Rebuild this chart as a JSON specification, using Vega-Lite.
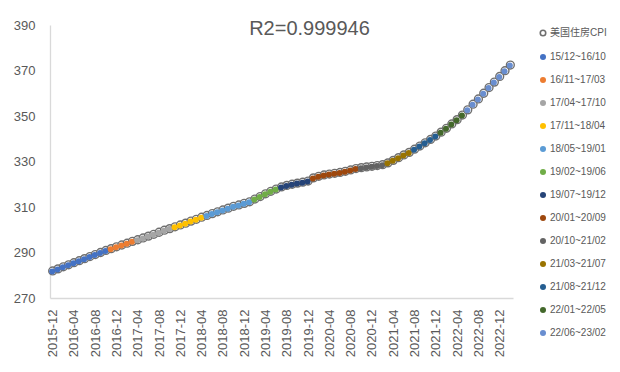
{
  "$schema": "https://vega.github.io/schema/vega-lite/v6.json",
  "autosize": {"type": "none"},
  "width": 463,
  "height": 273,
  "padding": {"left": 50, "top": 25, "right": 107, "bottom": 74},
  "background": "white",
  "title": {"text": "R2=0.999946", "fontSize": 20, "fontWeight": "normal", "color": "#595959", "font": "Liberation Sans", "anchor": "middle", "frame": "group", "dx": 28, "baseline": "alphabetic", "offset": -36},
  "config": {"view": {"stroke": null}},
  "resolve": {"legend": {"color": "independent", "stroke": "independent"}},
  "data": {"values": [
    {"m": "2015-12", "v": 281.9, "s": "15/12~16/10"},
    {"m": "2016-01", "v": 282.8, "s": "15/12~16/10"},
    {"m": "2016-02", "v": 283.7, "s": "15/12~16/10"},
    {"m": "2016-03", "v": 284.6, "s": "15/12~16/10"},
    {"m": "2016-04", "v": 285.5, "s": "15/12~16/10"},
    {"m": "2016-05", "v": 286.4, "s": "15/12~16/10"},
    {"m": "2016-06", "v": 287.3, "s": "15/12~16/10"},
    {"m": "2016-07", "v": 288.2, "s": "15/12~16/10"},
    {"m": "2016-08", "v": 289.1, "s": "15/12~16/10"},
    {"m": "2016-09", "v": 290.0, "s": "15/12~16/10"},
    {"m": "2016-10", "v": 290.9, "s": "15/12~16/10"},
    {"m": "2016-11", "v": 291.7, "s": "16/11~17/03"},
    {"m": "2016-12", "v": 292.5, "s": "16/11~17/03"},
    {"m": "2017-01", "v": 293.3, "s": "16/11~17/03"},
    {"m": "2017-02", "v": 294.1, "s": "16/11~17/03"},
    {"m": "2017-03", "v": 294.9, "s": "16/11~17/03"},
    {"m": "2017-04", "v": 295.6, "s": "17/04~17/10"},
    {"m": "2017-05", "v": 296.4, "s": "17/04~17/10"},
    {"m": "2017-06", "v": 297.2, "s": "17/04~17/10"},
    {"m": "2017-07", "v": 298.0, "s": "17/04~17/10"},
    {"m": "2017-08", "v": 298.9, "s": "17/04~17/10"},
    {"m": "2017-09", "v": 299.8, "s": "17/04~17/10"},
    {"m": "2017-10", "v": 300.5, "s": "17/04~17/10"},
    {"m": "2017-11", "v": 301.3, "s": "17/11~18/04"},
    {"m": "2017-12", "v": 302.1, "s": "17/11~18/04"},
    {"m": "2018-01", "v": 302.9, "s": "17/11~18/04"},
    {"m": "2018-02", "v": 303.8, "s": "17/11~18/04"},
    {"m": "2018-03", "v": 304.6, "s": "17/11~18/04"},
    {"m": "2018-04", "v": 305.5, "s": "17/11~18/04"},
    {"m": "2018-05", "v": 306.3, "s": "18/05~19/01"},
    {"m": "2018-06", "v": 307.1, "s": "18/05~19/01"},
    {"m": "2018-07", "v": 307.9, "s": "18/05~19/01"},
    {"m": "2018-08", "v": 308.7, "s": "18/05~19/01"},
    {"m": "2018-09", "v": 309.5, "s": "18/05~19/01"},
    {"m": "2018-10", "v": 310.3, "s": "18/05~19/01"},
    {"m": "2018-11", "v": 310.9, "s": "18/05~19/01"},
    {"m": "2018-12", "v": 311.6, "s": "18/05~19/01"},
    {"m": "2019-01", "v": 312.3, "s": "18/05~19/01"},
    {"m": "2019-02", "v": 313.5, "s": "19/02~19/06"},
    {"m": "2019-03", "v": 314.6, "s": "19/02~19/06"},
    {"m": "2019-04", "v": 315.8, "s": "19/02~19/06"},
    {"m": "2019-05", "v": 316.9, "s": "19/02~19/06"},
    {"m": "2019-06", "v": 317.9, "s": "19/02~19/06"},
    {"m": "2019-07", "v": 318.8, "s": "19/07~19/12"},
    {"m": "2019-08", "v": 319.5, "s": "19/07~19/12"},
    {"m": "2019-09", "v": 320.0, "s": "19/07~19/12"},
    {"m": "2019-10", "v": 320.5, "s": "19/07~19/12"},
    {"m": "2019-11", "v": 320.9, "s": "19/07~19/12"},
    {"m": "2019-12", "v": 321.4, "s": "19/07~19/12"},
    {"m": "2020-01", "v": 322.8, "s": "20/01~20/09"},
    {"m": "2020-02", "v": 323.5, "s": "20/01~20/09"},
    {"m": "2020-03", "v": 324.1, "s": "20/01~20/09"},
    {"m": "2020-04", "v": 324.5, "s": "20/01~20/09"},
    {"m": "2020-05", "v": 324.8, "s": "20/01~20/09"},
    {"m": "2020-06", "v": 325.2, "s": "20/01~20/09"},
    {"m": "2020-07", "v": 325.7, "s": "20/01~20/09"},
    {"m": "2020-08", "v": 326.3, "s": "20/01~20/09"},
    {"m": "2020-09", "v": 326.9, "s": "20/01~20/09"},
    {"m": "2020-10", "v": 327.3, "s": "20/10~21/02"},
    {"m": "2020-11", "v": 327.6, "s": "20/10~21/02"},
    {"m": "2020-12", "v": 327.9, "s": "20/10~21/02"},
    {"m": "2021-01", "v": 328.2, "s": "20/10~21/02"},
    {"m": "2021-02", "v": 328.6, "s": "20/10~21/02"},
    {"m": "2021-03", "v": 329.4, "s": "21/03~21/07"},
    {"m": "2021-04", "v": 330.5, "s": "21/03~21/07"},
    {"m": "2021-05", "v": 331.7, "s": "21/03~21/07"},
    {"m": "2021-06", "v": 332.9, "s": "21/03~21/07"},
    {"m": "2021-07", "v": 334.0, "s": "21/03~21/07"},
    {"m": "2021-08", "v": 335.4, "s": "21/08~21/12"},
    {"m": "2021-09", "v": 336.8, "s": "21/08~21/12"},
    {"m": "2021-10", "v": 338.2, "s": "21/08~21/12"},
    {"m": "2021-11", "v": 339.7, "s": "21/08~21/12"},
    {"m": "2021-12", "v": 341.2, "s": "21/08~21/12"},
    {"m": "2022-01", "v": 342.9, "s": "22/01~22/05"},
    {"m": "2022-02", "v": 344.6, "s": "22/01~22/05"},
    {"m": "2022-03", "v": 346.5, "s": "22/01~22/05"},
    {"m": "2022-04", "v": 348.4, "s": "22/01~22/05"},
    {"m": "2022-05", "v": 350.4, "s": "22/01~22/05"},
    {"m": "2022-06", "v": 352.7, "s": "22/06~23/02"},
    {"m": "2022-07", "v": 355.2, "s": "22/06~23/02"},
    {"m": "2022-08", "v": 357.5, "s": "22/06~23/02"},
    {"m": "2022-09", "v": 360.0, "s": "22/06~23/02"},
    {"m": "2022-10", "v": 362.5, "s": "22/06~23/02"},
    {"m": "2022-11", "v": 364.9, "s": "22/06~23/02"},
    {"m": "2022-12", "v": 367.4, "s": "22/06~23/02"},
    {"m": "2023-01", "v": 369.9, "s": "22/06~23/02"},
    {"m": "2023-02", "v": 372.4, "s": "22/06~23/02"}
  ]},
  "encoding": {
    "x": {"field": "m", "type": "ordinal", "sort": null, "scale": {"padding": 0.5},
      "axis": {"title": null, "values": ["2015-12","2016-04","2016-08","2016-12","2017-04","2017-08","2017-12","2018-04","2018-08","2018-12","2019-04","2019-08","2019-12","2020-04","2020-08","2020-12","2021-04","2021-08","2021-12","2022-04","2022-08","2022-12"],
        "labelAngle": -90, "labelAlign": "right", "labelBaseline": "middle", "labelPadding": 11, "labelFontSize": 13, "labelFont": "Liberation Sans", "labelColor": "#595959", "ticks": false, "domainColor": "#d9d9d9", "domainWidth": 1.3, "grid": false}},
    "y": {"field": "v", "type": "quantitative", "scale": {"domain": [270, 390], "nice": false, "zero": false},
      "axis": {"title": null, "values": [270, 290, 310, 330, 350, 370, 390], "labelFontSize": 13, "labelFont": "Liberation Sans", "labelColor": "#595959", "labelPadding": 15, "ticks": false, "domainColor": "#d9d9d9", "domainWidth": 1.3, "grid": false}}
  },
  "layer": [
    {
      "mark": {"type": "point", "filled": false, "fill": "white", "size": 62, "strokeWidth": 1.4, "opacity": 1},
      "encoding": {"stroke": {"datum": "美国住房CPI", "type": "nominal",
        "scale": {"domain": ["美国住房CPI"], "range": ["#6f6f6f"]},
        "legend": {"title": null, "orient": "none", "legendX": 488, "legendY": 3, "padding": 0, "symbolType": "circle", "symbolSize": 30, "symbolStrokeWidth": 1.6, "symbolFillColor": "white", "labelFontSize": 10, "labelFont": "Liberation Sans, Noto Sans CJK SC", "labelColor": "#595959", "labelOffset": 2}}}
    },
    {
      "mark": {"type": "circle", "size": 36, "opacity": 1, "xOffset": -0.5, "yOffset": 0.5},
      "encoding": {"color": {"field": "s", "type": "nominal",
        "scale": {"domain": ["15/12~16/10","16/11~17/03","17/04~17/10","17/11~18/04","18/05~19/01","19/02~19/06","19/07~19/12","20/01~20/09","20/10~21/02","21/03~21/07","21/08~21/12","22/01~22/05","22/06~23/02"],
          "range": ["#4472C4","#ED7D31","#A5A5A5","#FFC000","#5B9BD5","#70AD47","#264478","#9E480E","#636363","#997300","#255E91","#43682B","#698ED0"]},
        "legend": {"title": null, "orient": "none", "legendX": 488, "legendY": 27, "padding": 0, "rowPadding": 13, "symbolType": "circle", "symbolSize": 36, "labelFontSize": 10, "labelFont": "Liberation Sans, Noto Sans CJK SC", "labelColor": "#595959", "labelOffset": 2}}}
    }
  ]
}
